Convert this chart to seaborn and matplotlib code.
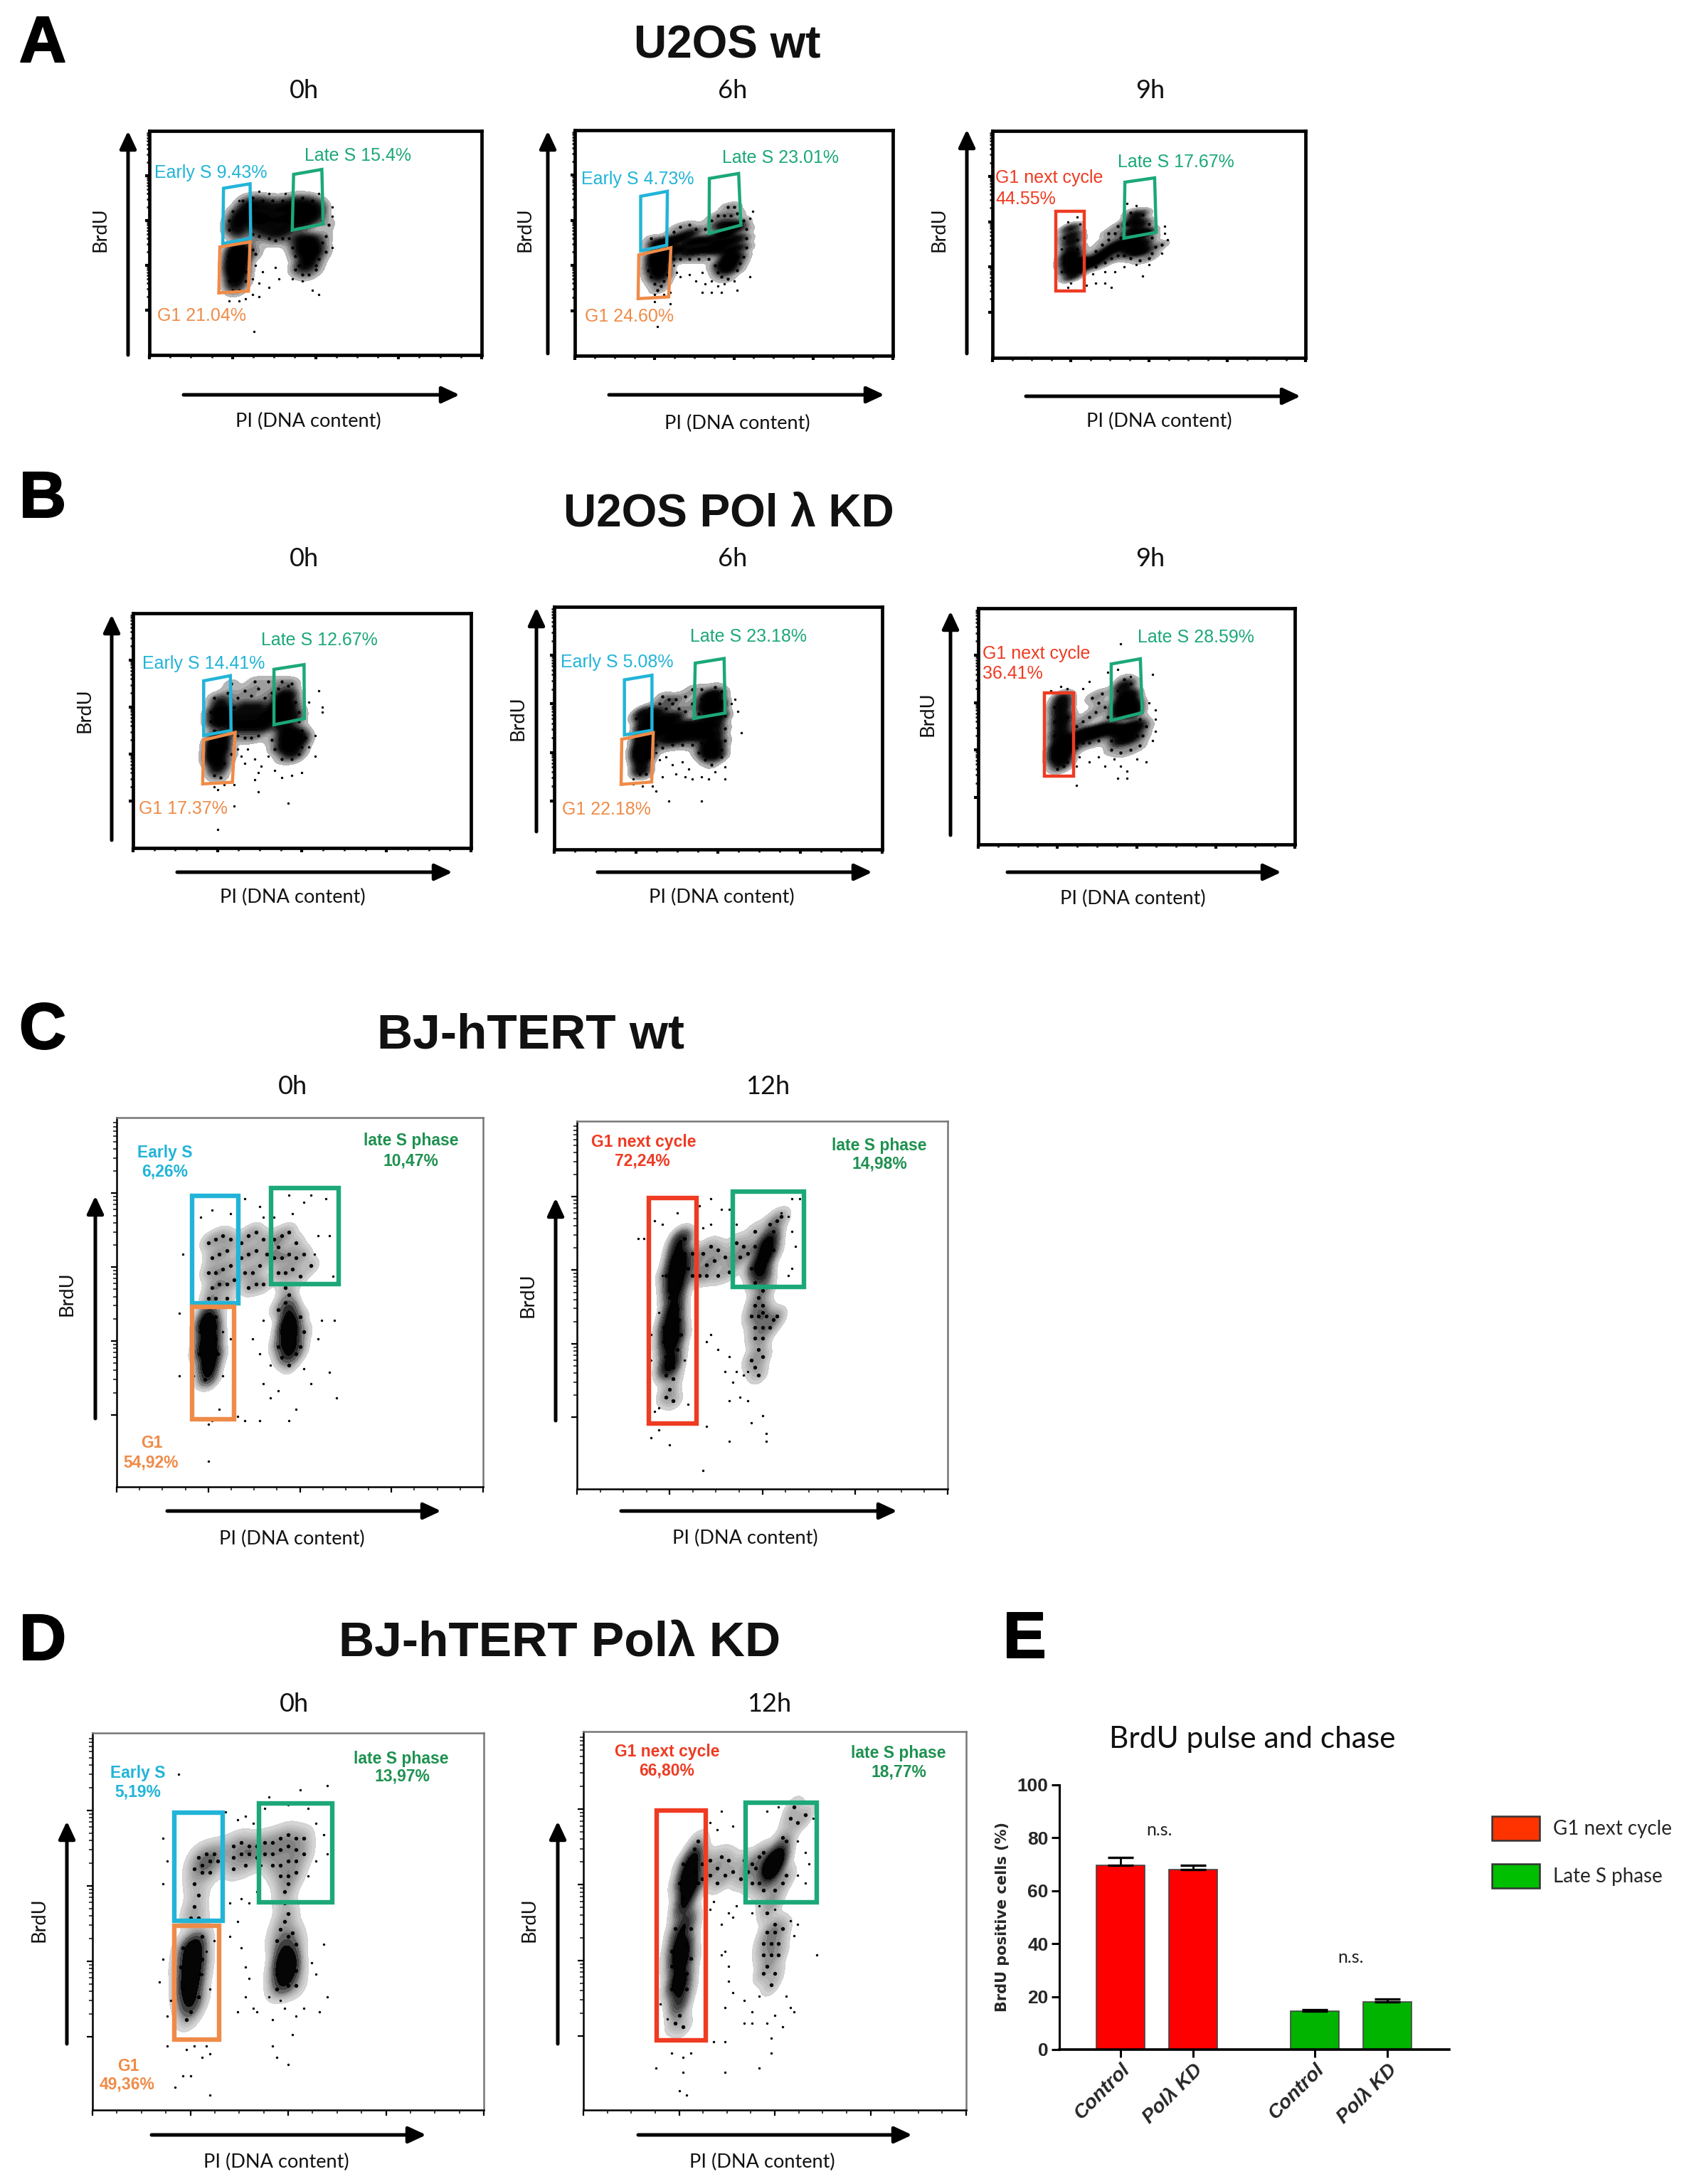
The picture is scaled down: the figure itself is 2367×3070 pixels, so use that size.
#!/usr/bin/env python3

import matplotlib
matplotlib.use("Agg")
import numpy as np
import pandas as pd
import seaborn as sns
import matplotlib.pyplot as plt
import matplotlib.patheffects as pe
from matplotlib.colors import LinearSegmentedColormap
from matplotlib.patches import Patch

W, H = 2367, 3070

CYAN = "#22B4D8"
GREEN = "#1CA878"
ORANGE = "#EF8B48"
RED = "#EE3B22"
DARK_GREEN = "#1E9150"

# flow panels: x/y are % of the plot window
A0_DENSE = [(25.5,47),(27.5,47),(26,44),(28,44),(25,41),(27,41),(25.5,38),(27,38),(26,35),(26,32),(27,62),(26,58),(27,55),(29,66),(29,61),(32,67),(32,62),(32,58),(35,66),(35,61),(35,56),(38,65),(38,60),(38,55),(41,66),(41,61),(41,56),(44,67),(44,63),(44,59),(47,67),(47,63),(47,59),(50,66),(50,62),(45,52),(47,50),(49,51),(46,47),(48,46),(50,47),(48,43),(47,40)]
A0_MID = [(24,60),(24,56),(25,64),(28,69),(31,70),(34,69),(37,69),(40,69),(43,70),(46,70),(49,69),(52,65),(52,60),(54,58),(53,53),(52,50),(53,46),(51,43),(50,40),(44,44),(43,48),(42,52),(40,52),(38,51),(36,52),(33,53),(31,54),(30,50),(31,47),(32,45),(44,38),(46,36),(48,36),(45,40),(50,38),(24,44),(24,38),(29,37),(29,33),(24,33),(25,29),(27,29)]
A0_STRAY = [(27,69),(33,73),(36,72),(41,72),(51,72),(55,66),(55,62),(55,48),(32,40),(34,37),(31,34),(33,32),(36,30),(39,34),(38,39),(43,34),(46,33),(49,29),(51,27),(31,27),(33,26),(24,24),(27,24),(29,25),(31.5,10.5)]

A6_DENSE = [(25,44),(27,44),(28,43),(25,41),(27,41),(26,38),(27,38),(26.5,35),(27,47),(28,49),(26,50),(30,47),(30,51),(33,47),(33,52),(36,46),(36,50),(36,54),(39,47),(39,51),(42,47),(42,51),(45,47),(45,50),(48,46),(48,50),(48,54),(51,48),(51,52),(46,54),(46,58),(49,58),(51,57),(48,43),(50,44),(47,40),(49,41),(48,38)]
A6_MID = [(31,55),(33,57),(36,58),(38,56),(41,56),(43,60),(45,62),(47,62),(49,62),(51,63),(48,66),(50,66),(53,60),(54,56),(54,52),(54,48),(53,44),(52,41),(51,38),(45,37),(44,40),(42,43),(39,43),(36,43),(33,43),(31,43),(24,48),(23,38),(24,35),(29,36),(28,33),(25,32),(27,31),(26,29),(46,35),(48,34),(24,52)]
A6_STRAY = [(31,40),(32,37),(33,35),(36,36),(38,33),(40,37),(41,32),(43,33),(45,31),(47,32),(50,33),(51,29),(40,28),(43,28),(46,28),(25,27),(28,27),(30,28),(55,61),(56,64),(55,35),(25,24),(30,23),(26,13)]

A9_DENSE = [(25,57),(25.5,54),(25,51),(25,48),(24.5,45),(25.5,45),(24.5,42),(26.5,42),(24.5,39),(26.5,39),(25.5,36),(28,42),(30,41),(32,42),(34,44),(36,46),(38,48),(40,50),(42,49),(44,48),(46,47),(48,47),(44,52),(46,51),(48,50),(45,56),(47,55),(49,55),(45,60),(47,59),(46,63)]
A9_MID = [(23,53),(27,52),(27,48),(23,42),(28,38),(30,44),(33,47),(35,50),(37,52),(38,44),(40,45),(36,42),(33,40),(39,55),(42,55),(43,59),(50,59),(51,53),(52,49),(51,46),(50,44),(47,43),(44,44),(42,45),(44,64),(48,63),(41,53),(37,55),(40,58),(54,50)]
A9_STRAY = [(24,60),(28,59),(27,62),(22,48),(22,38),(25,33),(24,31),(32,37),(36,38),(39,38),(42,40),(46,41),(50,41),(54,46),(55,55),(55,58),(56,52),(46,67),(43,68),(48,36),(36,33),(33,33),(30,32),(38,31)]

B0_DENSE = [(24,45),(26,45),(24,42),(26,42),(24,39),(25,37),(25,34),(26,48),(26,62),(25,58),(27,58),(25,54),(27,54),(30,52),(33,52),(36,52),(39,52),(31,56),(35,56),(39,56),(33,60),(37,60),(41,56),(42,60),(44,60),(46,60),(44,64),(46,65),(47,56),(44,56),(44,52),(46,50),(48,48),(45,47),(47,45),(49,46),(45,43),(47,41)]
B0_MID = [(31,64),(33,67),(35,65),(37,68),(39,64),(41,66),(43,68),(46,69),(30,60),(28,66),(24,64),(23,58),(23,54),(24,50),(48,62),(49,58),(49,54),(50,50),(51,47),(50,43),(49,40),(47,38),(44,38),(42,42),(41,46),(33,47),(35,47),(37,48),(31,48),(29,70),(36,71),(40,71),(44,71),(47,70),(29,40),(23,38),(27,36),(24,31),(26,30)]
B0_STRAY = [(31,42),(32,39),(34,42),(33,36),(36,38),(38,35),(40,39),(37,32),(42,33),(44,30),(47,31),(50,32),(52,43),(54,48),(54,39),(55,67),(56,60),(52,62),(56,58),(24,26),(27,27),(30,27),(36,29),(37,24),(46,19),(25,25),(30,18),(25,8)]

B6_DENSE = [(27,45),(26.5,42),(28,43),(26,39),(27.5,39),(26.5,36),(26.5,33),(28,47),(27,50),(28,53),(27,56),(31,48),(31,52),(31,56),(34,46),(34,50),(34,54),(37,46),(37,50),(37,54),(40,47),(40,51),(43,47),(43,51),(46,47),(46,51),(49,47),(49,51),(47,43),(49,43),(47,40),(49,39),(47,55),(50,55),(46,59),(48,59),(50,59),(47,63),(49,63)]
B6_MID = [(32,60),(34,58),(36,60),(38,58),(40,57),(42,60),(44,56),(31,43),(33,42),(36,43),(39,43),(42,43),(45,44),(45,62),(45,66),(49,67),(51,65),(51,61),(52,55),(52,50),(52,45),(51,41),(51,38),(46,37),(48,35),(44,40),(25,46),(25,41),(29,38),(26,31),(28,31),(35,62),(33,63),(37,62),(40,63),(42,66),(29,58),(25,54)]
B6_STRAY = [(31,40),(32,37),(34,38),(36,35),(39,36),(41,33),(37,31),(40,30),(42,29),(45,30),(47,29),(49,32),(52,34),(52,29),(54,60),(55,62),(56,57),(57,48),(24,27),(27,26),(30,26),(31,24),(35,20),(45,20),(24,29),(33,30)]

B9_DENSE = [(26.5,62),(26.5,59),(26,56),(26.5,53),(26,50),(26,47),(26,44),(25,41),(27,41),(25,38),(27,38),(26,35),(30,44),(32,46),(34,47),(36,47),(38,48),(40,49),(42,49),(44,48),(46,48),(48,49),(50,50),(45,44),(48,45),(45,56),(47,56),(49,56),(45,59),(47,60),(49,59),(46,63),(48,63),(46,67)]
B9_MID = [(24,58),(24,52),(28,54),(24,46),(28,46),(29,41),(31,41),(33,43),(35,43),(38,44),(31,50),(33,52),(35,54),(37,56),(38,60),(40,58),(36,62),(39,64),(41,54),(42,44),(42,40),(45,39),(48,40),(51,42),(52,46),(53,50),(50,46),(51,53),(44,65),(48,68),(46,70),(24,36),(28,35),(25,32),(27,33)]
B9_STRAY = [(23,65),(26,67),(28,66),(33,66),(35,69),(41,73),(44,74),(48,71),(55,72),(54,60),(56,57),(56,53),(56,48),(55,44),(32,37),(35,35),(38,37),(31,33),(40,33),(43,36),(45,33),(47,31),(50,36),(53,35),(44,28),(47,28),(31,25),(45,85)]

C0_DENSE = [(25,47),(25,44),(24,44),(26,43),(24,40),(26,40),(25,37),(24,37),(26,36),(24.5,33),(25.5,33),(25,30),(47,48),(47,45),(46,42),(48,42),(46,39),(48,39),(47,36),(47,44)]
C0_MID = [(25,66),(27,67),(29,68),(31,67),(26,62),(28,63),(30,64),(25,58),(27,58),(29,59),(31,60),(26,54),(28,55),(30,55),(32,56),(25,51),(27,51),(30,51),(34,66),(36,68),(38,69),(40,67),(34,62),(36,63),(38,64),(41,63),(35,58),(37,58),(39,60),(36,54),(38,55),(40,55),(43,67),(44,65),(45,68),(47,69),(49,66),(43,62),(45,62),(47,63),(49,62),(44,58),(46,58),(48,59),(46,54),(47,52),(46,50),(44,48),(50,46),(51,42),(44,38),(45,35),(49,36),(50,38),(23,42),(27,46),(27,40),(22.5,36),(27.5,36),(47,33),(24,29),(51,63),(53,60),(50,57)]
C0_STRAY = [(25,79),(35,78),(39,76),(47,79),(53,79),(57,78),(40,73),(43,73),(48,74),(51,77),(23,73),(26,75),(31,74),(55,68),(58,68),(59,57),(54,63),(18,63),(17,47),(21,30),(29,42),(31,40),(37,40),(40,45),(39,36),(42,33),(40,28),(44,26),(42,24),(51,32),(53,28),(55,40),(56,45),(59.5,45),(60,24),(58,31),(29,30),(28,21),(26,18),(35,18),(39,18),(47,18),(49,21),(25,17),(25,7),(33,19),(17,30)]

C12_DENSE = [(25.5,47),(25,44),(26,44),(25,41),(26,41),(25,38),(25.5,35),(24.5,33),(26.5,52),(26,49),(27,65),(28,68),(26.5,62),(28,62),(26,59),(28,59),(26,56),(27,55),(50,62),(51,64),(51,66),(52,68),(49,60),(50,58)]
C12_MID = [(25,52),(27,49),(27.5,46),(23.5,44),(28,42),(23.5,40),(27,38),(24,36),(26,33),(24,31),(26,30),(25,27),(24,25),(26,24),(27,56),(29,64),(29,68),(30,60),(31,58),(24,58),(25,54),(31,64),(32,62),(34,64),(36,66),(38,65),(35,61),(37,62),(40,63),(42,62),(44,63),(46,64),(47,60),(45,66),(43,67),(35,58),(38,58),(41,59),(33,58),(48,66),(48,70),(53,70),(54,73),(55,74),(52,72),(53,65),(48,56),(50,54),(51,55),(49,52),(50,50),(47,47),(49,47),(51,47),(53,46),(54,47),(48,44),(50,44),(52,44),(48,41),(50,41),(49,38),(47,35),(50,36),(48,33),(49,31),(50,48),(48,50)]
C12_STRAY = [(36,79),(33,77),(39,76),(41,76),(55,75),(58,79),(60,79),(57,74),(58,70),(59,66),(58,60),(57,58),(43,72),(36,72),(34,71),(18,68),(16.5,68),(21,73),(23,72),(27,75),(22,48),(23,58),(20,42),(20,35),(19,29),(21,21),(22,22),(30,23),(29,35),(36,42),(35,40),(38,38),(41,36),(43,32),(45,31),(46,32),(40,32),(42,29),(41,24),(44,25),(46,24),(47,18),(50,20),(51,15),(41,13),(51,13),(35,17),(25,12),(22,16),(20,14),(34,5)]

D0_DENSE = [(26,44),(25,42),(26,42),(25,39),(26,39),(24.5,36),(25.5,36),(24.5,33),(25.5,33),(24.5,30),(25,28),(49,40),(50,40),(49,38),(50,38),(49.5,36),(49,43),(49,34)]
D0_MID = [(27,67),(29,68),(31,68),(33,69),(28,65),(30,66),(32,66),(26,64),(28,63),(30,63),(26,60),(27,57),(26,54),(25,51),(27,51),(36,70),(38,71),(40,70),(42,70),(36,67),(38,68),(40,68),(42,67),(36,64),(39,65),(44,71),(46,71),(48,72),(50,73),(52,72),(54,72),(44,68),(46,68),(48,69),(50,70),(52,69),(54,68),(46,65),(48,65),(50,66),(52,66),(48,62),(50,62),(52,63),(49,58),(50,60),(49,55),(50,52),(49,50),(48,48),(51,47),(50,46),(47,45),(52,44),(47,36),(52,37),(47,32),(50,33),(52,33),(28,46),(23,43),(28,40),(22.5,38),(27.5,36),(23,32),(27,30),(25,26),(24,24)]
D0_STRAY = [(22,89),(45,83),(53,85),(60,86),(44,80),(50,81),(55,80),(39,78),(34,79),(37,77),(41,76),(57,76),(59,73),(60,68),(57,66),(55,62),(18,72),(19,66),(18,60),(38,56),(35,55),(37,50),(40,55),(42,58),(43,65),(28,36),(30,32),(18,40),(17,34),(20,29),(19,25),(29,42),(31,45),(35,46),(38,43),(39,38),(40,35),(39,30),(37,26),(41,27),(42,26),(45,30),(48,29),(46,24),(49,27),(52,25),(54,27),(58,26),(60,30),(59,44),(56,39),(57,36),(46,17),(51,20),(47,14),(50,12),(26,17),(24,16),(28,14),(30,15),(19,17),(23,9),(25,9),(30,4),(21,6),(29,17)]

D12_DENSE = [(25,46),(25,43),(26,43),(25,40),(26,40),(25,37),(24.5,34),(25.5,34),(25,31),(25,28),(27,50),(26,53),(27,62),(28,62),(27,59),(28,59),(28,65),(29,67),(27,56),(48,64),(50,64),(49,62),(51,66),(51,68),(49,66)]
D12_MID = [(26,48),(24,48),(28,48),(27,44),(23,42),(28,40),(23,38),(27,36),(27,32),(23,32),(25,25),(24,23),(26,22),(26,56),(29,69),(30,71),(29,63),(30,60),(25,60),(26,65),(31,61),(33,62),(35,64),(37,62),(39,63),(41,61),(43,63),(44,65),(46,67),(33,66),(36,67),(38,66),(31,65),(35,60),(42,66),(44,60),(46,60),(47,58),(45,64),(52,72),(53,71),(54,77),(56,76),(55,80),(58,78),(53,62),(52,60),(47,68),(50,58),(48,55),(50,55),(48,52),(50,49),(48,47),(50,47),(52,48),(47,44),(49,44),(51,44),(47,41),(49,41),(48,38),(47,36),(50,36),(49,33),(51,41)]
D12_STRAY = [(36,79),(33,76),(35,74),(39,75),(48,79),(51,80),(56,71),(58,68),(59,65),(58,60),(60,77),(56,62),(34,55),(40,54),(39,51),(33,53),(36,49),(38,52),(44,52),(46,54),(50,53),(54,50),(56,49),(55,46),(61,41),(37,42),(38,38),(36,41),(38,34),(39,31),(37,27),(42,29),(44,26),(44,23),(46,30),(48,23),(50,25),(54,27),(53,30),(55,26),(42,23),(52,22),(34,18),(37,18),(49,19),(49,15),(22,24),(20,28),(28,15),(26,14),(23,15),(19,11),(26,10),(27,4),(25,5),(37,10),(46,11)]

# gates: corners in % of the plot window
A0_GATES = [(CYAN, [(22.3,74.4),(30.3,76.4),(30.5,52.1),(22.1,49.7)]), (GREEN, [(43.4,80.6),(51.9,82.8),(52.3,58.5),(43.0,55.7)]), (ORANGE, [(21.2,48.2),(30.3,50.5),(29.8,28.5),(20.9,27.7)])]
A6_GATES = [(CYAN, [(20.7,70.7),(29.1,72.9),(28.9,49),(20.7,46.5)]), (GREEN, [(42.3,78.6),(51.5,80.8),(52.2,57.9),(42.2,54.2)]), (ORANGE, [(20.1,44.7),(30.2,47.9),(29.5,26.1),(19.9,25.3)])]
A9_GATES = [(RED, [(20.2,64.6),(29.3,64.6),(29.3,29.5),(20.2,29.5)]), (GREEN, [(42.3,77.4),(51.8,79.3),(52.3,55.3),(42.0,52.7)])]
B0_GATES = [(CYAN, [(20.9,71.2),(28.8,73.4),(29,50),(20.9,48)]), (GREEN, [(41.7,76.1),(50.6,78.1),(50.7,55.1),(41.7,52.5)]), (ORANGE, [(20.9,46),(30.2,49.2),(29.4,28),(20.6,27.3)])]
B6_GATES = [(CYAN, [(21.4,69.9),(29.8,71.8),(29.8,49.1),(21.4,47.2)]), (GREEN, [(43,76.8),(51.8,78.7),(52.1,56.2),(42.6,54)]), (ORANGE, [(20.6,45.4),(30.2,48.1),(29.7,27.8),(20.4,26.8)])]
B9_GATES = [(RED, [(20.9,64.3),(30.2,64.3),(30.2,28.9),(20.9,28.9)]), (GREEN, [(42,76.4),(51.2,78.6),(51.8,55.8),(42,52.5)])]
C0_GATES = [(CYAN, [(20.5,78.9),(33.3,78.9),(33.3,49.8),(20.5,49.8)]), (GREEN, [(42.2,81),(60.5,81),(60.5,55),(42.2,55)]), (ORANGE, [(20.5,48.8),(32.1,48.8),(32.1,18.3),(20.5,18.3)])]
C12_GATES = [(RED, [(19.3,79.2),(32.2,79.2),(32.2,17.8),(19.3,17.8)]), (GREEN, [(42.1,80.9),(61.2,80.9),(61.2,54.9),(42.1,54.9)])]
D0_GATES = [(CYAN, [(20.9,78.9),(33.2,78.9),(33.2,50.2),(20.9,50.2)]), (GREEN, [(42.6,81.3),(61.2,81.3),(61.2,55.1),(42.6,55.1)]), (ORANGE, [(20.9,48.8),(32.3,48.8),(32.3,18.6),(20.9,18.6)])]
D12_GATES = [(RED, [(19.1,79.2),(32,79.2),(32,18.5),(19.1,18.5)]), (GREEN, [(42.4,81.2),(61,81.2),(61,54.8),(42.4,54.8)])]

# gate labels: text, colour, x %, y %, alignment
A0_LABELS = [("Late S 15.4%", GREEN, 62.8, 89, "center"), ("Early S 9.43%", CYAN, 18.4, 81.2, "center"), ("G1 21.04%", ORANGE, 15.7, 17.5, "center")]
A6_LABELS = [("Late S 23.01%", GREEN, 64.7, 87.6, "center"), ("Early S 4.73%", CYAN, 19.8, 78.1, "center"), ("G1 24.60%", ORANGE, 17.2, 17.4, "center")]
A9_LABELS = [("Late S 17.67%", GREEN, 58.5, 86.3, "center"), ("G1 next cycle", RED, 0.9, 79.3, "left"), ("44.55%", RED, 0.9, 70, "left")]
B0_LABELS = [("Late S 12.67%", GREEN, 55.2, 88.6, "center"), ("Early S 14.41%", CYAN, 20.9, 78.6, "center"), ("G1 17.37%", ORANGE, 14.8, 16.7, "center")]
B6_LABELS = [("Late S 23.18%", GREEN, 59.3, 87.6, "center"), ("Early S 5.08%", CYAN, 19.1, 77.2, "center"), ("G1 22.18%", ORANGE, 16, 16.5, "center")]
B9_LABELS = [("Late S 28.59%", GREEN, 68.8, 87.6, "center"), ("G1 next cycle", RED, 1.4, 80.6, "left"), ("36.41%", RED, 1.4, 72.2, "left")]
C0_LABELS = [("Early S", CYAN, 13.2, 90.5), ("6,26%", CYAN, 13.2, 85.4), ("late S phase", DARK_GREEN, 80.3, 93.8), ("10,47%", DARK_GREEN, 80.3, 88.3), ("G1", ORANGE, 9.6, 11.8), ("54,92%", ORANGE, 9.4, 6.6)]
C12_LABELS = [("G1 next cycle", RED, 17.9, 94.3), ("72,24%", RED, 17.6, 89.1), ("late S phase", DARK_GREEN, 81.5, 93.4), ("14,98%", DARK_GREEN, 81.7, 88.3)]
D0_LABELS = [("Early S", CYAN, 11.6, 89.3), ("5,19%", CYAN, 11.6, 84.4), ("late S phase", DARK_GREEN, 78.9, 93.2), ("13,97%", DARK_GREEN, 79.2, 88.4), ("G1", ORANGE, 9.1, 11.6), ("49,36%", ORANGE, 8.9, 6.8)]
D12_LABELS = [("G1 next cycle", RED, 21.9, 94.6), ("66,80%", RED, 21.7, 89.7), ("late S phase", DARK_GREEN, 82.3, 94.3), ("18,77%", DARK_GREEN, 82.5, 89.2)]

# bar chart E
BAR_X = [0.0, 1.0, 2.68, 3.68]
BAR_LABELS = ["Control", "Polλ KD", "Control", "Polλ KD"]
BAR_GROUP = ["G1 next cycle", "G1 next cycle", "Late S phase", "Late S phase"]
BAR_VALUES = [69.5, 68.0, 14.5, 18.0]
BAR_ERRORS = [3.0, 1.5, 0.6, 1.0]
BAR_COLORS = {"G1 next cycle": "#FF0000", "Late S phase": "#00B400"}

# (dense, mid, stray, gates, labels, box l/r/t/b px, thin frame, y arrow x/top/bottom, x arrow l/r/y, xlabel xy, ylabel xy)
PANELS = [
    (A0_DENSE, A0_MID, A0_STRAY, A0_GATES, A0_LABELS, (210, 677, 184, 499), False, (180, 184, 499), (258, 646, 555), (433, 592), (141, 323)),
    (A6_DENSE, A6_MID, A6_STRAY, A6_GATES, A6_LABELS, (808, 1255, 183, 500), False, (770, 184, 497), (856, 1243, 555), (1036, 595), (738, 323)),
    (A9_DENSE, A9_MID, A9_STRAY, A9_GATES, A9_LABELS, (1395, 1835, 184, 503), False, (1359, 182, 497), (1442, 1828, 557), (1629, 592), (1320, 323)),
    (B0_DENSE, B0_MID, B0_STRAY, B0_GATES, B0_LABELS, (187, 662, 862, 1192), False, (157, 864, 1181), (249, 636, 1226), (411, 1261), (119, 999)),
    (B6_DENSE, B6_MID, B6_STRAY, B6_GATES, B6_LABELS, (779, 1240, 853, 1194), False, (754, 854, 1169), (840, 1226, 1226), (1014, 1261), (728, 1010)),
    (B9_DENSE, B9_MID, B9_STRAY, B9_GATES, B9_LABELS, (1375, 1820, 855, 1187), False, (1336, 859, 1174), (1416, 1801, 1226), (1592, 1263), (1304, 1004)),
    (C0_DENSE, C0_MID, C0_STRAY, C0_GATES, C0_LABELS, (164, 679, 1571, 2090), True, (134, 1681, 1994), (235, 620, 2124), (410, 2163), (94, 1819)),
    (C12_DENSE, C12_MID, C12_STRAY, C12_GATES, C12_LABELS, (811, 1332, 1576, 2093), True, (781, 1684, 1997), (873, 1261, 2124), (1047, 2162), (742, 1821)),
    (D0_DENSE, D0_MID, D0_STRAY, D0_GATES, D0_LABELS, (130, 680, 2436, 2966), True, (94, 2560, 2873), (213, 599, 3001), (388, 3039), (55, 2699)),
    (D12_DENSE, D12_MID, D12_STRAY, D12_GATES, D12_LABELS, (820, 1358, 2434, 2966), True, (784, 2560, 2873), (897, 1282, 3001), (1071, 3039), (744, 2699)),
]

HEADINGS = [("U2OS wt", 1022, 65, 46), ("U2OS POl λ KD", 1024, 723, 46), ("BJ-hTERT wt", 746, 1455, 50), ("BJ-hTERT Polλ KD", 787, 2309, 50)]
LETTERS = [("A", 60, 63), ("B", 60, 703), ("C", 60, 1450), ("D", 60, 2309), ("E", 1440, 2306)]
TIMES = [("0h", 427, 127), ("6h", 1030, 127), ("9h", 1617, 127), ("0h", 427, 785), ("6h", 1030, 785), ("9h", 1617, 785),
         ("0h", 411, 1527), ("12h", 1079, 1527), ("0h", 413, 2395), ("12h", 1081, 2395)]

THICK_CMAP = LinearSegmentedColormap.from_list("thick", ["#c4c4c4", "#4c4c4c", "#0c0c0c", "#000000", "#000000", "#000000"])
THIN_CMAP = LinearSegmentedColormap.from_list("thin", ["#d8d8d8", "#6a6a6a", "#2c2c2c", "#0a0a0a", "#000000", "#000000"])
CLOUD_LEVELS = [0.02, 0.05, 0.08, 0.12, 0.17, 0.22, 0.28, 0.35, 0.42, 0.5, 0.6, 1.0]


def add_axes(fig, left, right, top, bottom):
    return fig.add_axes([left / W, 1 - bottom / H, (right - left) / W, (bottom - top) / H])


def draw_panel(fig, over, dense, mid, stray, gates, labels, box, thin, yarrow, xarrow, xlabel, ylabel):
    ax = add_axes(fig, *box)
    cloud = pd.DataFrame(dense + mid, columns=["x", "y"])
    cloud["w"] = [5] * len(dense) + [1] * len(mid)
    sns.kdeplot(data=cloud, x="x", y="y", weights="w", fill=True, levels=CLOUD_LEVELS,
                cmap=THIN_CMAP if thin else THICK_CMAP, bw_adjust=0.3 if thin else 0.42, gridsize=240, ax=ax)
    for points, size in ((mid, 15 if thin else 10), (stray, 6)):
        xs, ys = zip(*points)
        sns.scatterplot(x=list(xs), y=list(ys), s=size, color="black", linewidth=0, ax=ax, legend=False)
    for color, corners in gates:
        ax.fill(*zip(*corners), fill=False, edgecolor=color, linewidth=4.6 if thin else 3.2, joinstyle="miter")
    for label in labels:
        text, color, x, y = label[:4]
        ha = label[4] if len(label) > 4 else "center"
        ax.text(x, y, text, color=color, ha=ha, va="center", fontsize=16.5 if thin else 18,
                fontweight="bold" if thin else "normal", family="Liberation Sans")
    ax.set_xlabel("")
    ax.set_ylabel("")
    ax.set_xlim(0, 100)
    ax.set_ylim(0, 100)
    ax.set_xticks([0, 25, 50, 75, 100])
    ax.set_xticks(np.arange(0, 100.1, 6.25), minor=True)
    base = 19.5 if thin else 20
    ax.set_yticks([base + 20 * i for i in range(4)])
    ax.set_yticks([base + 20 * (i + np.log10(k)) for i in range(4) for k in range(2, 10)], minor=True)
    ax.set_xticklabels([])
    ax.set_yticklabels([])
    major_w, minor_w = (1.6, 1.2) if thin else (3, 2)
    ax.tick_params(which="major", length=6 if thin else 4, width=major_w, color="black", left=True, bottom=True)
    ax.tick_params(which="minor", length=3.5 if thin else 3, width=minor_w, color="#222222", left=True, bottom=True)
    for name, spine in ax.spines.items():
        spine.set_visible(True)
        spine.set_linewidth(1.8 if thin else 3.4)
        spine.set_color("#777777" if thin and name in ("top", "right") else "black")

    arrow = dict(arrowstyle="-|>,head_length=0.75,head_width=0.35", color="black", lw=3.6,
                 mutation_scale=20, shrinkA=0, shrinkB=0)
    over.annotate("", xy=(yarrow[0], yarrow[1]), xytext=(yarrow[0], yarrow[2]), arrowprops=arrow)
    over.annotate("", xy=(xarrow[1], xarrow[2]), xytext=(xarrow[0], xarrow[2]), arrowprops=arrow)
    over.text(xlabel[0], xlabel[1], "PI (DNA content)", fontsize=19.5, ha="center", va="center", family="Lato", color="#111111")
    over.text(ylabel[0], ylabel[1], "BrdU", fontsize=19.5, rotation=90, ha="center", va="center", family="Lato", color="#111111")


def draw_bars(fig):
    ax = add_axes(fig, 1489, 2037, 2509, 2881)
    data = pd.DataFrame({"pos": BAR_X, "value": BAR_VALUES, "group": BAR_GROUP})
    sns.barplot(data=data, x="pos", y="value", hue="group", palette=BAR_COLORS, native_scale=True, saturation=1,
                width=0.667, dodge=False, edgecolor="#444444", linewidth=1.2, legend=False, ax=ax)
    lower = [0] * len(BAR_ERRORS)
    ax.errorbar(BAR_X, BAR_VALUES, yerr=[lower, BAR_ERRORS], fmt="none", ecolor="black", elinewidth=2, capsize=13, capthick=2.4)
    ax.text(0.53, 83, "n.s.", ha="center", va="center", fontsize=18, family="Lato", color="#222222")
    ax.text(3.17, 34.7, "n.s.", ha="center", va="center", fontsize=18, family="Lato", color="#222222")
    ax.set_xlim(-0.843, 4.53)
    ax.set_ylim(0, 100)
    ax.set_yticks(range(0, 101, 20))
    ax.set_xticks(BAR_X)
    ax.set_xticklabels(BAR_LABELS, rotation=45, ha="right", rotation_mode="anchor", fontsize=20,
                       fontweight="bold", fontstyle="italic", family="Liberation Sans")
    for tick in ax.get_yticklabels():
        tick.set_fontsize(19)
        tick.set_fontweight("bold")
        tick.set_family("Liberation Sans")
    ax.set_xlabel("")
    ax.set_ylabel("BrdU positive cells (%)", fontsize=15, fontweight="bold", family="DejaVu Sans", labelpad=8)
    ax.tick_params(axis="both", length=8, width=2.2, color="black", left=True, bottom=True, pad=3)
    sns.despine(ax=ax)
    ax.spines["left"].set_linewidth(2.2)
    ax.spines["bottom"].set_linewidth(2.6)
    ax.spines["left"].set_color("black")
    ax.spines["bottom"].set_color("black")

    handles = [Patch(facecolor="#FF3300", edgecolor="#333333", linewidth=1.8, label="G1 next cycle"),
               Patch(facecolor="#00BE00", edgecolor="#333333", linewidth=1.8, label="Late S phase")]
    fig.legend(handles=handles, loc="upper left", bbox_to_anchor=(2072 / W, 1 - 2528 / H), frameon=False,
               prop={"family": "Lato", "size": 20}, handlelength=2.4, handleheight=1.5, labelspacing=1.2, handletextpad=0.7)


def main():
    sns.set_style("white")
    fig = plt.figure(figsize=(W / 100, H / 100), dpi=100, facecolor="white")

    over = fig.add_axes([0, 0, 1, 1], zorder=5)
    over.set_xlim(0, W)
    over.set_ylim(H, 0)
    over.axis("off")
    over.patch.set_alpha(0)

    for panel in PANELS:
        draw_panel(fig, over, *panel)
    draw_bars(fig)

    for text, x, y, size in HEADINGS:
        over.text(x, y, text, fontsize=size, fontweight="bold", ha="center", va="center", family="Liberation Sans", color="#111111")
    for text, x, y in LETTERS:
        over.text(x, y, text, fontsize=66, fontweight="bold", ha="center", va="center", family="Liberation Sans", color="black",
                  path_effects=[pe.withStroke(linewidth=1.5, foreground="black")])
    for text, x, y in TIMES:
        over.text(x, y, text, fontsize=26, ha="center", va="center", family="Lato", color="#111111")
    over.text(1760, 2445, "BrdU pulse and chase", fontsize=30.5, ha="center", va="center", family="Lato", color="#111111")

    fig.savefig("out.png", dpi=100)


if __name__ == "__main__":
    main()
